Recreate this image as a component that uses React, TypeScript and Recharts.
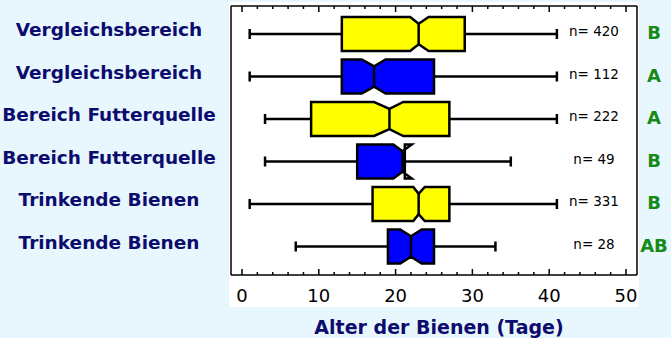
import React from 'react';
import { BarChart, Bar, XAxis, YAxis } from 'recharts';

// one row per box, top to bottom
const groups = [
  'Vergleichsbereich',
  'Vergleichsbereich',
  'Bereich Futterquelle',
  'Bereich Futterquelle',
  'Trinkende Bienen',
  'Trinkende Bienen',
];
const whiskerLow = [1, 1, 3, 3, 1, 7];
const q1 = [13, 13, 9, 15, 17, 19];
const median = [23, 17.2, 19.2, 20.9, 23, 22];
const q3 = [29, 25, 27, 21.2, 27, 25];
const whiskerHigh = [41, 41, 41, 35, 41, 33];
const notchLow = [21.9, 15.6, 17.2, 19.7, 22.3, 20.6];
const notchHigh = [24.3, 18.7, 21, 22.1, 23.8, 23.4];
const counts = [420, 112, 222, 49, 331, 28];
const letters = ['B', 'A', 'A', 'B', 'B', 'AB'];
const boxColors = ['#ffff00', '#0000ff', '#ffff00', '#0000ff', '#ffff00', '#0000ff'];
const xTicks = [0, 2, 4, 6, 8, 10, 12, 14, 16, 18, 20, 22, 24, 26, 28, 30, 32, 34, 36, 38, 40, 42, 44, 46, 48, 50];

const NAVY = '#0c0c6e';
const GREEN = '#168a16';
const BG = '#e8f6fd';
const PLOT_H = 269; // frame height, used to mirror ticks onto the top edge

const rows = groups.map((g, i) => ({
  id: i,
  name: g,
  range: [whiskerLow[i], whiskerHigh[i]],
  q1: q1[i],
  median: median[i],
  q3: q3[i],
  nLo: notchLow[i],
  nHi: notchHigh[i],
  color: boxColors[i],
}));

const BoxShape = (props: any) => {
  const { x, y, width, height, payload } = props;
  const [lo, hi] = payload.range;
  const px = (v: number) => x + ((v - lo) / (hi - lo)) * width;
  const cy = y + height / 2;
  const top = y;
  const bot = y + height;
  const dent = height * 0.2;
  const a = px(payload.q1);
  const b = px(payload.q3);
  const m = px(payload.median);
  const nl = px(payload.nLo);
  const nh = px(payload.nHi);

  // fill stops at q3 when the notch sticks out past the box
  let fillPts: string;
  if (nh > b) {
    const t = (b - m) / (nh - m);
    const yy = dent * (1 - t);
    fillPts = `${a},${top} ${nl},${top} ${m},${top + dent} ${b},${top + yy} ${b},${bot - yy} ${m},${bot - dent} ${nl},${bot} ${a},${bot}`;
  } else {
    fillPts = `${a},${top} ${nl},${top} ${m},${top + dent} ${nh},${top} ${b},${top} ${b},${bot} ${nh},${bot} ${m},${bot - dent} ${nl},${bot} ${a},${bot}`;
  }
  const outline = `M${a},${top} L${nl},${top} L${m},${top + dent} L${nh},${top} L${b},${top} L${b},${bot} L${nh},${bot} L${m},${bot - dent} L${nl},${bot} L${a},${bot} Z`;

  return (
    <g>
      <line x1={px(lo)} y1={cy} x2={a} y2={cy} stroke="#000" strokeWidth={2.5} />
      <line x1={b} y1={cy} x2={px(hi)} y2={cy} stroke="#000" strokeWidth={2.5} />
      <line x1={px(lo)} y1={cy - 5} x2={px(lo)} y2={cy + 5} stroke="#000" strokeWidth={2.5} />
      <line x1={px(hi)} y1={cy - 5} x2={px(hi)} y2={cy + 5} stroke="#000" strokeWidth={2.5} />
      <polygon points={fillPts} fill={payload.color} stroke="none" />
      <path d={outline} fill="none" stroke="#000" strokeWidth={2.5} strokeLinejoin="miter" />
      <line x1={m} y1={top + dent} x2={m} y2={bot - dent} stroke="#000" strokeWidth={2.5} />
    </g>
  );
};

const BottomTick = (props: any) => {
  const { x, y, payload } = props;
  const major = payload.value % 10 === 0;
  const len = major ? 6 : 3;
  return (
    <g>
      <line x1={x} y1={y} x2={x} y2={y - len} stroke="#000" strokeWidth={1.5} />
      <line x1={x} y1={y - PLOT_H} x2={x} y2={y - PLOT_H + len} stroke="#000" strokeWidth={1.5} />
      {major && (
        <text x={x} y={y + 27} textAnchor="middle" fontSize={18} fontFamily="DejaVu Sans" fill="#000">
          {payload.value}
        </text>
      )}
    </g>
  );
};

const GroupTick = (props: any) => {
  const { x, y, payload } = props;
  return (
    <text x={x - 122} y={y + 2} textAnchor="middle" fontSize={18.5} fontWeight="bold" fontFamily="DejaVu Sans" fill={NAVY}>
      {groups[payload.value]}
    </text>
  );
};

const RightTick = (props: any) => {
  const { x, y, payload } = props;
  const i = payload.value;
  return (
    <g>
      <text x={x - 43} y={y + 2} textAnchor="middle" fontSize={13.5} fontFamily="DejaVu Sans" fill="#000">
        {`n= ${counts[i]}`}
      </text>
      <text x={x + 17} y={y + 5} textAnchor="middle" fontSize={18} fontWeight="bold" fontFamily="DejaVu Sans" fill={GREEN}>
        {letters[i]}
      </text>
    </g>
  );
};

export default function App() {
  return (
    <div style={{ position: 'absolute', left: 0, top: 0, width: 671, height: 338, background: BG }}>
      <div style={{ position: 'absolute', left: 229, top: 2, width: 410, height: 305, background: '#fff' }} />
      <div style={{ position: 'absolute', left: 0, top: 0 }}>
        <BarChart
          width={671}
          height={338}
          data={rows}
          layout="vertical"
          margin={{ top: 5, right: 33, bottom: 0, left: 0 }}
          barSize={34}
        >
          <XAxis
            type="number"
            domain={[0, 50]}
            ticks={xTicks}
            interval={0}
            padding={{ left: 11, right: 11 }}
            height={63}
            tickSize={0}
            tickMargin={0}
            tickLine={false}
            axisLine={{ stroke: '#000', strokeWidth: 1.5 }}
            tick={(p: any) => <BottomTick {...p} />}
            label={{
              value: 'Alter der Bienen (Tage)',
              position: 'insideBottom',
              offset: 4,
              dx: 5,
              fill: NAVY,
              fontSize: 19,
              fontWeight: 'bold',
              fontFamily: 'DejaVu Sans',
            }}
          />
          <XAxis
            xAxisId="top"
            orientation="top"
            type="number"
            domain={[0, 50]}
            padding={{ left: 11, right: 11 }}
            height={1}
            tick={false}
            tickLine={false}
            axisLine={{ stroke: '#000', strokeWidth: 1.5 }}
          />
          <YAxis
            type="category"
            dataKey="id"
            width={231}
            padding={{ top: 7, bottom: 7 }}
            tickSize={0}
            tickMargin={0}
            tickLine={false}
            interval={0}
            axisLine={{ stroke: '#000', strokeWidth: 1.5 }}
            tick={(p: any) => <GroupTick {...p} />}
          />
          <YAxis
            yAxisId="right"
            orientation="right"
            type="category"
            dataKey="id"
            width={1}
            padding={{ top: 7, bottom: 7 }}
            tickSize={0}
            tickMargin={0}
            tickLine={false}
            interval={0}
            axisLine={{ stroke: '#000', strokeWidth: 1.5 }}
            tick={(p: any) => <RightTick {...p} />}
          />
          <Bar dataKey="range" shape={(p: any) => <BoxShape {...p} />} isAnimationActive={false} />
        </BarChart>
      </div>
    </div>
  );
}
